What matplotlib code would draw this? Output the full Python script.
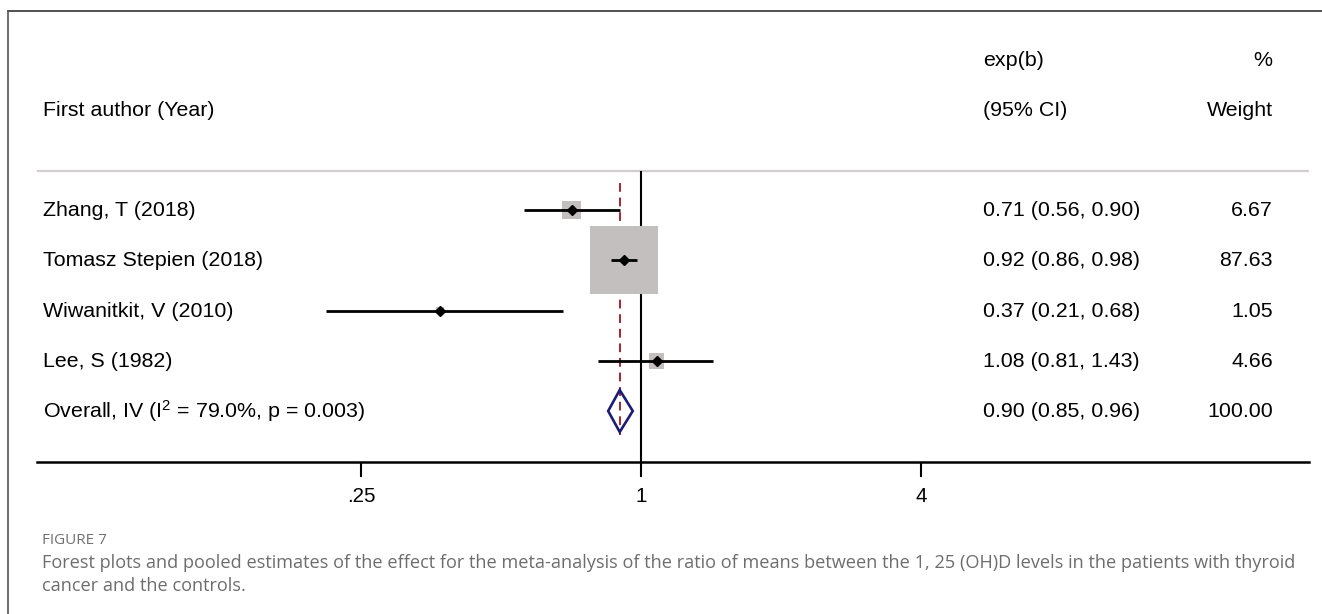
import numpy as np
import matplotlib
matplotlib.use('Agg')
from matplotlib import pyplot as plt
from matplotlib.lines import Line2D
from matplotlib.patches import Polygon
from matplotlib.transforms import blended_transform_factory

plt.rcParams['font.family'] = ['Liberation Sans', 'DejaVu Sans']
plt.rcParams['mathtext.default'] = 'regular'

# study data
authors = ['Zhang, T (2018)', 'Tomasz Stepien (2018)', 'Wiwanitkit, V (2010)', 'Lee, S (1982)']
est = [0.71, 0.92, 0.37, 1.08]
ciLow = [0.56, 0.86, 0.21, 0.81]
ciHigh = [0.90, 0.98, 0.68, 1.43]
weight = [6.67, 87.63, 1.05, 4.66]

# pooled estimate
overallLabel = r'Overall, IV (I$^{2}$ = 79.0%, p = 0.003)'
overallEst = 0.90
overallLow = 0.85
overallHigh = 0.96
overallWeight = 100.00

xTicks = [0.25, 1, 4]
xTickLabels = ['.25', '1', '4']

W, H = 1322, 614
fig = plt.figure(figsize=(W / 100, H / 100), dpi=100)

# plot area in pixels: left 37, right 1309, top 11, bottom 462
ax = fig.add_axes([37 / W, (H - 462) / H, 1272 / W, 451 / H])
ax.set_xscale('log', base=2)
ax.set_xlim(2 ** ((37 - 641) / 140), 2 ** ((1309 - 641) / 140))
rowStep = 50.25
ax.set_ylim((462 - 210) / rowStep, (11 - 210) / rowStep)

for s in ['top', 'left', 'right']:
    ax.spines[s].set_visible(False)
ax.spines['bottom'].set_linewidth(1.8)
ax.set_yticks([])
ax.set_xticks(xTicks)
ax.set_xticklabels(xTickLabels, fontsize=14.8)
ax.minorticks_off()
ax.tick_params(axis='x', length=10.5, width=1.5, pad=7.5, direction='out')

rows = np.arange(len(authors))
overallRow = len(authors)

# header separator and null line
sepY = (171 - 210) / rowStep
ax.axhline(sepY, color='#d2cece', linewidth=1.6)
ax.vlines(1, sepY, ax.get_ylim()[0], color='black', linewidth=1.5)

# pooled estimate dashed line
ax.vlines(overallEst, (183 - 210) / rowStep, (435 - 210) / rowStep,
          color='#a8222e', linewidth=1.4, linestyles=(0, (4.5, 3)))

# weight boxes
maxSide = 68 * 0.72
sizes = [(maxSide ** 2) * w / max(weight) for w in weight]
ax.scatter(est, rows, s=sizes, marker='s', color='#c4bfbf', linewidths=0, zorder=2)

# CIs and point estimates
ax.hlines(rows, ciLow, ciHigh, color='black', linewidth=2.0, zorder=3)
ax.plot(est, rows, linestyle='none', marker='D', markersize=5.2,
        color='black', zorder=4)

# overall diamond
dh = 21 / rowStep
diamond = Polygon([(overallLow, overallRow), (overallEst, overallRow - dh),
                   (overallHigh, overallRow), (overallEst, overallRow + dh)],
                  closed=True, facecolor='none', edgecolor='#1c1c78',
                  linewidth=1.9, zorder=5)
ax.add_patch(diamond)

# text columns
tr = blended_transform_factory(fig.transFigure, ax.transData)
fs = 15.4
hdr1 = (60 - 210) / rowStep
hdr2 = (110 - 210) / rowStep
ax.text(43 / W, hdr2, 'First author (Year)', transform=tr, fontsize=fs, va='center')
ax.text(983 / W, hdr1, 'exp(b)', transform=tr, fontsize=fs, va='center')
ax.text(983 / W, hdr2, '(95% CI)', transform=tr, fontsize=fs, va='center')
ax.text(1272 / W, hdr1, '%', transform=tr, fontsize=fs, va='center', ha='right')
ax.text(1273 / W, hdr2, 'Weight', transform=tr, fontsize=fs, va='center', ha='right')

labels = authors + [overallLabel]
estAll = est + [overallEst]
lowAll = ciLow + [overallLow]
highAll = ciHigh + [overallHigh]
wAll = weight + [overallWeight]
for i in range(len(labels)):
    ax.text(43 / W, i + 0.01, labels[i], transform=tr, fontsize=fs, va='center')
    ax.text(983 / W, i + 0.01, f'{estAll[i]:.2f} ({lowAll[i]:.2f}, {highAll[i]:.2f})',
            transform=tr, fontsize=fs, va='center')
    ax.text(1273 / W, i + 0.01, f'{wAll[i]:.2f}', transform=tr, fontsize=fs,
            va='center', ha='right')

# outer frame (top and left)
fig.add_artist(Line2D([8 / W, 1], [1 - 11 / H, 1 - 11 / H], color='#333333', linewidth=1.2))
fig.add_artist(Line2D([8 / W, 8 / W], [0, 1 - 11 / H], color='#555555', linewidth=1.2))

# caption
capFont = ['Open Sans', 'DejaVu Sans']
fig.text(42 / W, 1 - 541 / H, 'FIGURE 7', fontsize=11, color='#707070',
         family=capFont, va='center')
fig.text(42 / W, 1 - 563 / H,
         'Forest plots and pooled estimates of the effect for the meta-analysis of the ratio of means '
         'between the 1, 25 (OH)D levels in the patients with thyroid',
         fontsize=13.08, color='#6d6d6d', family=capFont, va='center')
fig.text(42 / W, 1 - 586 / H, 'cancer and the controls.', fontsize=13.08,
         color='#6d6d6d', family=capFont, va='center')

plt.savefig('out.png', dpi=100)
plt.close()
